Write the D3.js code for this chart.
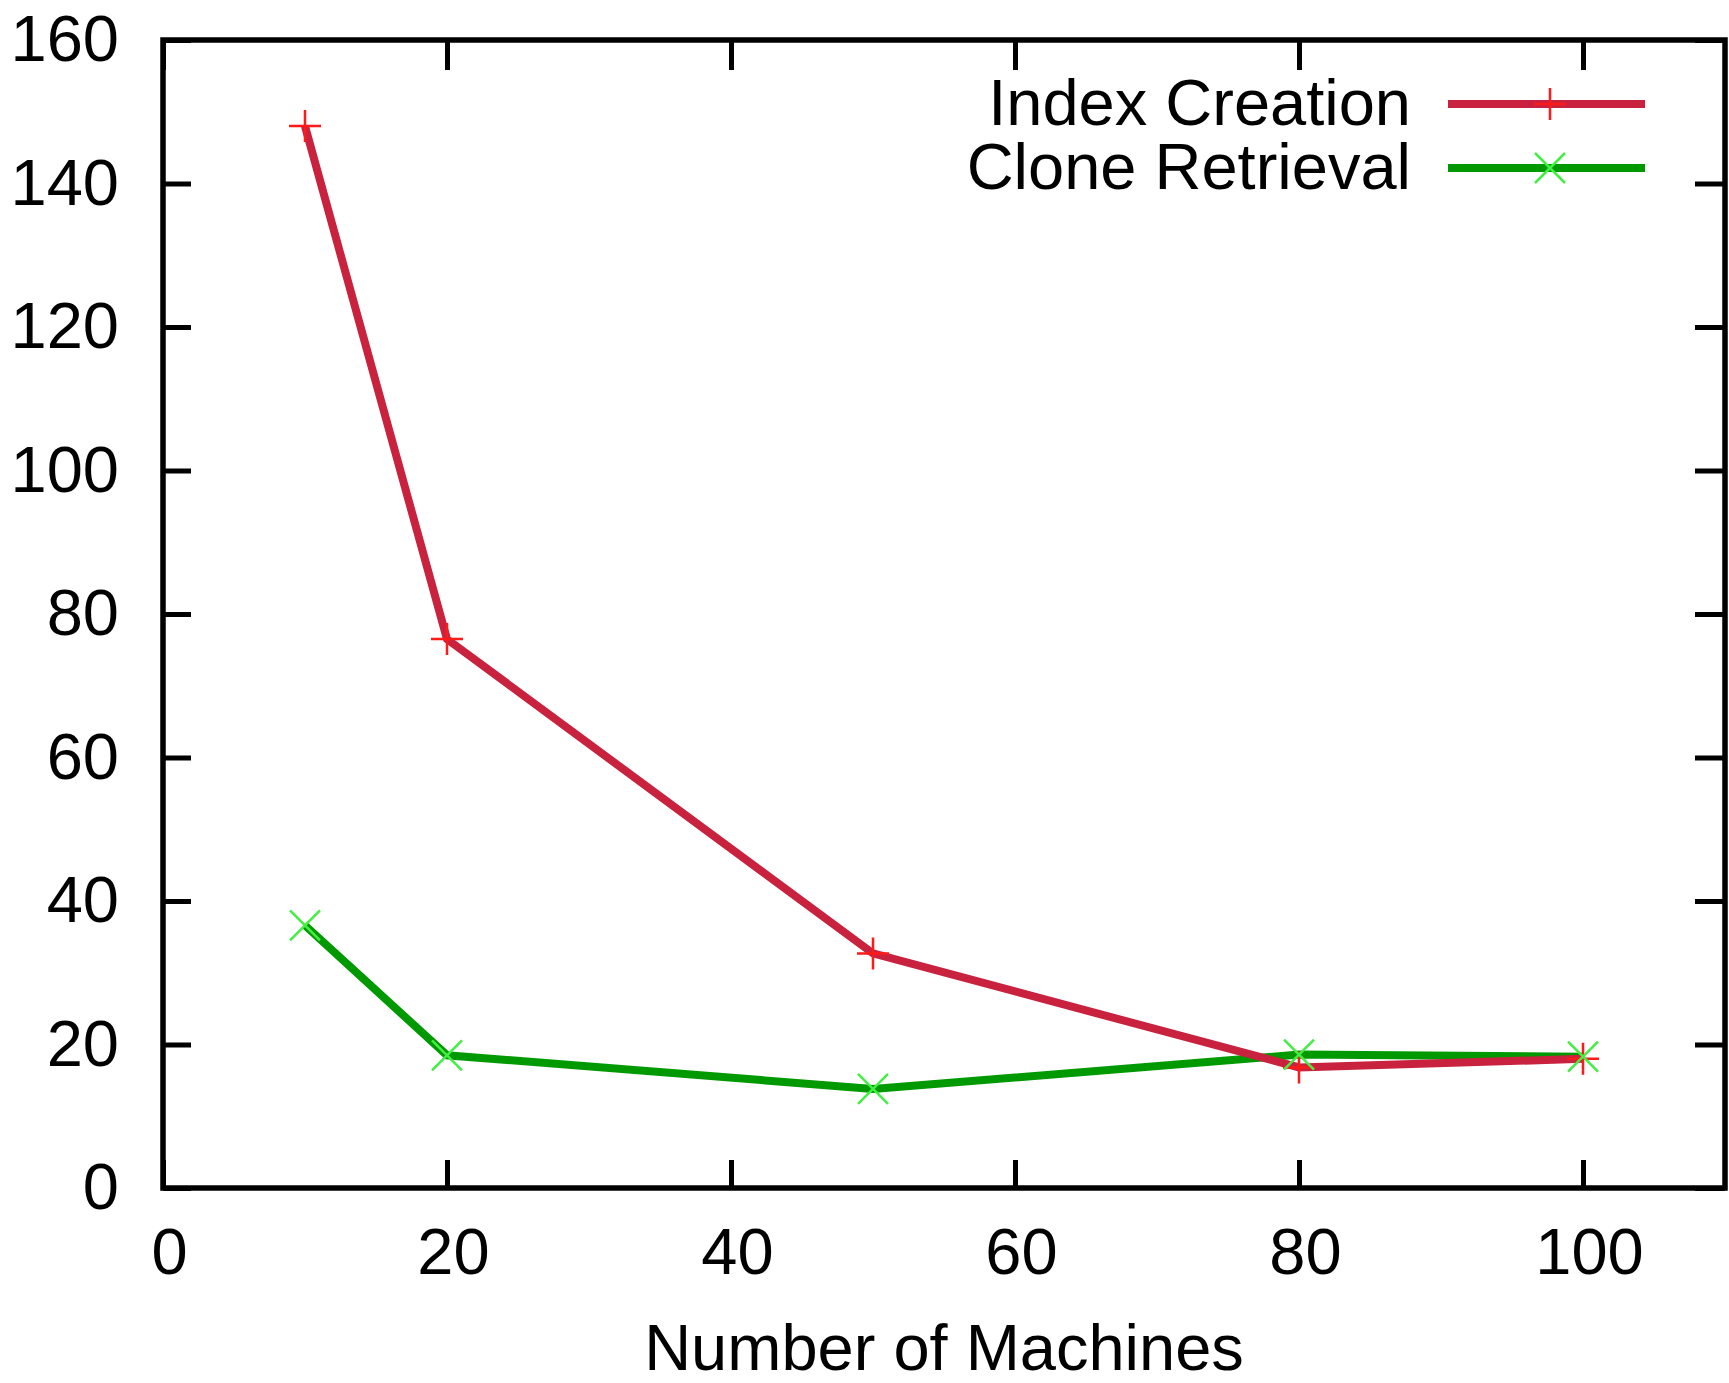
<!DOCTYPE html>
<html>

<head>
    <title>Index creation vs clone retrieval</title>
    <script src="https://d3js.org/d3.v7.min.js" charset="utf-8"></script>
    <style>
        body {
            margin: 0;
            background: #fff;
        }

        text {
            font-family: "Liberation Sans", Arial, sans-serif;
            fill: #000;
        }
    </style>
</head>

<body>
    <script>
        // values
        const machines = [10, 20, 50, 80, 100];
        const indexCreation = [148, 76.5, 32.7, 16.8, 18];
        const cloneRetrieval = [36.6, 18.5, 13.8, 18.6, 18.3];
        const seriesNames = ["Index Creation", "Clone Retrieval"];
        const xTicks = [0, 20, 40, 60, 80, 100];
        const yTicks = [0, 20, 40, 60, 80, 100, 120, 140, 160];
        const xTitle = "Number of Machines";

        const width = 1729;
        const height = 1383;
        // plot frame edges (window.top is taken, so prefixed names)
        const plotLeft = 163, plotRight = 1725, plotTop = 40, plotBottom = 1188;
        const fontSize = 65;

        const svg = d3.select('body')
            .append('svg')
            .attr('width', width)
            .attr('height', height)

        const x = d3.scaleLinear().domain([0, 110]).range([plotLeft, plotRight])
        const y = d3.scaleLinear().domain([0, 160]).range([plotBottom, plotTop])

        function styleAxis(g, keepLabels) {
            g.select('.domain').remove()
            g.selectAll('.tick line').attr('stroke', '#000').attr('stroke-width', 5)
            if (keepLabels) {
                g.selectAll('.tick text')
                    .style('font-size', fontSize + 'px')
                    .style('font-family', '"Liberation Sans", Arial, sans-serif')
                    .attr('fill', '#000')
            } else {
                g.selectAll('.tick text').remove()
            }
        }

        // ticks point inward on all four sides
        svg.append('g')
            .attr('transform', `translate(0,${plotBottom})`)
            .call(d3.axisBottom(x).tickValues(xTicks).tickSize(-28).tickPadding(40))
            .call(g => styleAxis(g, true))
            .call(g => g.selectAll('.tick text').attr('dx', 6))
        svg.append('g')
            .attr('transform', `translate(0,${plotTop})`)
            .call(d3.axisTop(x).tickValues(xTicks).tickSize(-30))
            .call(g => styleAxis(g, false))
        svg.append('g')
            .attr('transform', `translate(${plotLeft},0)`)
            .call(d3.axisLeft(y).tickValues(yTicks).tickSize(-28).tickPadding(44))
            .call(g => styleAxis(g, true))
        svg.append('g')
            .attr('transform', `translate(${plotRight},0)`)
            .call(d3.axisRight(y).tickValues(yTicks).tickSize(-30))
            .call(g => styleAxis(g, false))

        svg.append('rect')
            .attr('x', plotLeft)
            .attr('y', plotTop)
            .attr('width', plotRight - plotLeft)
            .attr('height', plotBottom - plotTop)
            .attr('fill', 'none')
            .attr('stroke', '#000')
            .attr('stroke-width', 5.5)

        svg.append('text')
            .attr('x', (plotLeft + plotRight) / 2)
            .attr('y', 1370)
            .attr('text-anchor', 'middle')
            .style('font-size', '65px')
            .text(xTitle)

        const series = [
            { name: seriesNames[0], values: indexCreation, line: '#c8223f', mark: '#ff1a1a', shape: 'plus' },
            { name: seriesNames[1], values: cloneRetrieval, line: '#009900', mark: '#44ee44', shape: 'cross' }
        ]

        const line = d3.line()
            .x(d => x(d[0]))
            .y(d => y(d[1]))

        function markerPath(shape, cx, cy) {
            const p = d3.path()
            if (shape === 'plus') {
                const r = 16
                p.moveTo(cx - r, cy); p.lineTo(cx + r, cy)
                p.moveTo(cx, cy - r); p.lineTo(cx, cy + r)
            } else {
                const r = 15
                p.moveTo(cx - r, cy - r); p.lineTo(cx + r, cy + r)
                p.moveTo(cx - r, cy + r); p.lineTo(cx + r, cy - r)
            }
            return p.toString()
        }

        // green first so the red line sits on top where they cross
        series.slice().reverse().forEach(s => {
            const pts = machines.map((m, i) => [m, s.values[i]])
            svg.append('path')
                .datum(pts)
                .attr('fill', 'none')
                .attr('stroke', s.line)
                .attr('stroke-width', 8)
                .attr('stroke-linejoin', 'miter')
                .attr('d', line)
        })
        series.forEach(s => {
            svg.append('g')
                .selectAll('path')
                .data(machines.map((m, i) => [m, s.values[i]]))
                .enter()
                .append('path')
                .attr('fill', 'none')
                .attr('stroke', s.mark)
                .attr('stroke-width', 2.5)
                .attr('d', d => markerPath(s.shape, x(d[0]), y(d[1])))
        })

        // legend, top right inside the frame
        const legendY = [104, 168];
        series.forEach((s, i) => {
            const g = svg.append('g')
            g.append('text')
                .attr('x', 1411)
                .attr('y', legendY[i] + 21)
                .attr('text-anchor', 'end')
                .style('font-size', fontSize + 'px')
                .text(s.name)
            g.append('line')
                .attr('x1', 1448).attr('x2', 1645)
                .attr('y1', legendY[i]).attr('y2', legendY[i])
                .attr('stroke', s.line)
                .attr('stroke-width', 8)
            g.append('path')
                .attr('fill', 'none')
                .attr('stroke', s.mark)
                .attr('stroke-width', 2.5)
                .attr('d', markerPath(s.shape, 1550, legendY[i]))
        })
    </script>
</body>

</html>
